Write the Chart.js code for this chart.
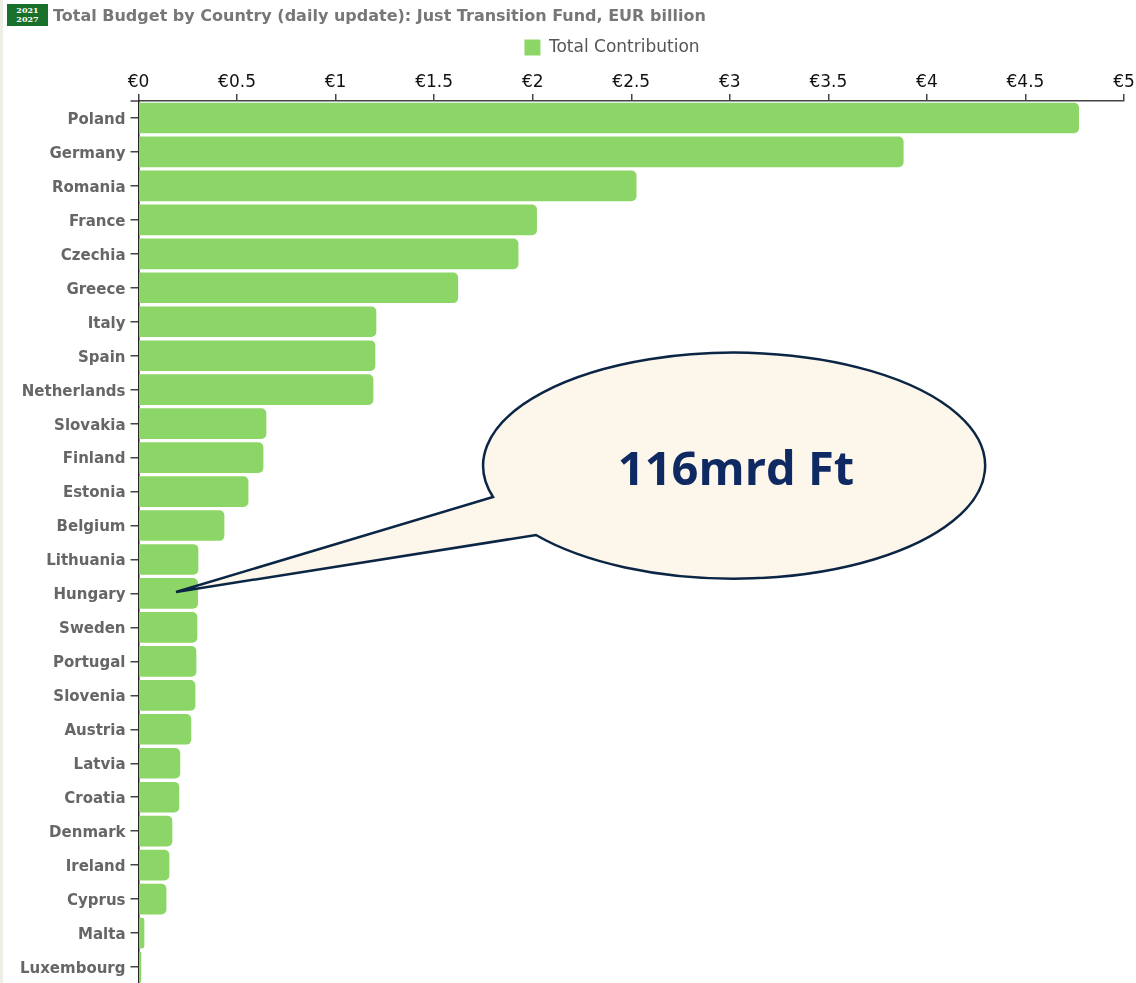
<!DOCTYPE html>
<html lang="en">
<head>
    <meta charset="UTF-8">
    <title>Total Budget by Country</title>
    <script src="https://cdn.jsdelivr.net/npm/chart.js"></script>
    <style>
        html, body {
            margin: 0;
            padding: 0;
            background: #fff;
            overflow: hidden;
        }

        #page {
            position: relative;
            width: 1136px;
            height: 983px;
            overflow: hidden;
        }

        #strip {
            position: absolute;
            left: 0;
            top: 0;
            width: 3px;
            height: 983px;
            background: #eeede6;
        }

        #badge {
            position: absolute;
            left: 7px;
            top: 4px;
            width: 41px;
            height: 22px;
            background: #19702b;
            color: #fff;
            font: bold 8px/9px "DejaVu Serif", serif;
            text-align: center;
            padding-top: 2px;
            box-sizing: border-box;
        }

        #title {
            position: absolute;
            left: 53px;
            top: 6px;
            font: bold 16px "DejaVu Sans", sans-serif;
            color: #777;
            white-space: nowrap;
        }

        #myChart {
            position: absolute;
            left: 0;
            top: 0;
        }

        #callout {
            position: absolute;
            left: 0;
            top: 0;
        }
    </style>
</head>
<body>
<div id="page">
    <div id="strip"></div>
    <!-- canvas runs past the page bottom so the last row sits where the reference has it -->
    <canvas id="myChart" width="1136" height="998"></canvas>
    <div id="badge">2021<br>2027</div>
    <div id="title">Total Budget by Country (daily update): Just Transition Fund, EUR billion</div>
    <svg id="callout" width="1136" height="983">
        <path d="M493 497 A251 113 0 1 1 536 535 L176 592 Z" fill="#fdf6ea" stroke="#0b2545" stroke-width="2.5" stroke-linejoin="miter"/>
        <text x="736" y="485" text-anchor="middle" font-family="Open Sans" font-weight="700" font-size="47" fill="#0f2a63">116mrd Ft</text>
    </svg>
</div>

<script>
    const countries = ['Poland', 'Germany', 'Romania', 'France', 'Czechia', 'Greece', 'Italy', 'Spain',
        'Netherlands', 'Slovakia', 'Finland', 'Estonia', 'Belgium', 'Lithuania', 'Hungary', 'Sweden',
        'Portugal', 'Slovenia', 'Austria', 'Latvia', 'Croatia', 'Denmark', 'Ireland', 'Cyprus', 'Malta', 'Luxembourg'];
    const totalContribution = [4.77, 3.88, 2.525, 2.02, 1.926, 1.62, 1.205, 1.2,
        1.19, 0.647, 0.632, 0.556, 0.434, 0.302, 0.3, 0.297,
        0.292, 0.287, 0.266, 0.21, 0.205, 0.17, 0.155, 0.14, 0.028, 0.012];

    // small tick at the top of the y axis and the legend shift, the library has no option for these
    const axisCorner = {
        id: 'axisCorner',
        beforeDraw(chart) {
            chart.legend.left = 44;
            chart.legend.right = 1180;
        },
        afterDraw(chart) {
            const ctx = chart.ctx;
            const area = chart.chartArea;
            ctx.save();
            ctx.strokeStyle = '#444';
            ctx.lineWidth = 1.5;
            ctx.beginPath();
            ctx.moveTo(area.left - 8, area.top);
            ctx.lineTo(area.left, area.top);
            ctx.stroke();
            ctx.restore();
        }
    };

    new Chart(document.getElementById('myChart').getContext('2d'), {
        type: 'bar',
        data: {
            labels: countries,
            datasets: [{
                label: 'Total Contribution',
                data: totalContribution,
                backgroundColor: '#8cd667',
                borderRadius: {topLeft: 0, bottomLeft: 0, topRight: 5, bottomRight: 5},
                borderSkipped: false,
                barThickness: 30
            }]
        },
        plugins: [axisCorner],
        options: {
            indexAxis: 'y',
            responsive: false,
            animation: false,
            layout: {autoPadding: false, padding: {top: 35, right: 12, bottom: 0, left: 0}},
            plugins: {
                legend: {
                    position: 'top',
                    labels: {
                        boxWidth: 16,
                        boxHeight: 16,
                        color: '#555',
                        font: {family: 'DejaVu Sans', size: 17},
                        padding: 4
                    }
                },
                tooltip: {enabled: false}
            },
            scales: {
                x: {
                    position: 'top',
                    min: 0,
                    max: 5,
                    afterFit(scale) {
                        scale.height = 35;
                    },
                    ticks: {
                        stepSize: 0.5,
                        maxRotation: 0,
                        color: '#111',
                        padding: 1,
                        font: {family: 'DejaVu Sans', size: 17},
                        callback: value => '€' + value
                    },
                    grid: {drawOnChartArea: false, drawTicks: true, tickLength: 7, color: '#444', lineWidth: 1.5},
                    border: {color: '#444', width: 1.5}
                },
                y: {
                    afterFit(scale) {
                        scale.width = 138.5;
                    },
                    ticks: {
                        autoSkip: false,
                        color: '#666',
                        padding: 5,
                        labelOffset: 2,
                        font: {family: 'DejaVu Sans', size: 15, weight: 'bold'}
                    },
                    grid: {drawOnChartArea: false, drawTicks: true, tickLength: 8, offset: false, color: '#444', lineWidth: 1.5},
                    border: {color: '#222', width: 1.5}
                }
            }
        }
    });
</script>
</body>
</html>
